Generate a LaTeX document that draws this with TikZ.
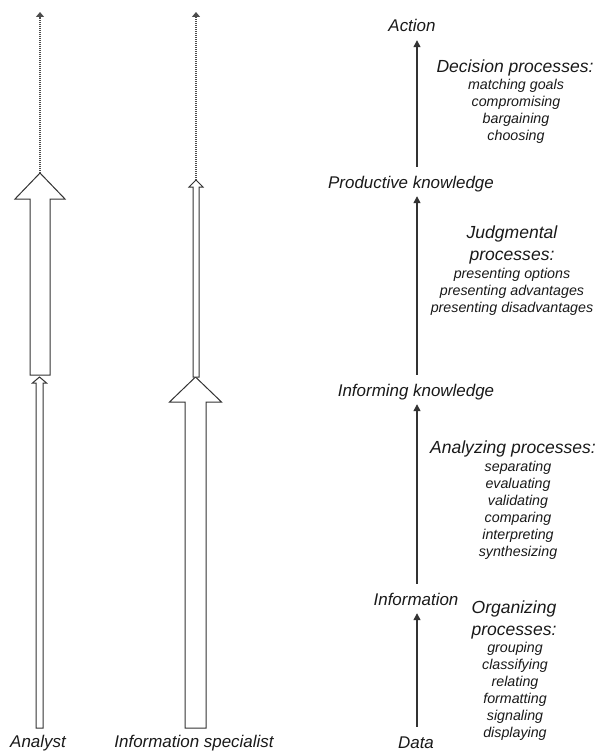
\documentclass[tikz,border=0pt]{standalone}
\usepackage{fontspec}
\setmainfont{Liberation Sans}
\usetikzlibrary{arrows.meta}
\tikzstyle{arrow} = [line width=1.3bp, draw=black!80, -{Triangle[length=7bp,width=7bp]}, shorten <=8.5bp, shorten >=4.4bp]
\tikzstyle{dots} = [line width=1.2bp, draw=black!70, dash pattern=on 1.2bp off 0.8bp, -{Triangle[length=5bp,width=8bp]}]
\tikzstyle{openarrow} = [line width=1bp, draw=black!80, fill=white, line join=miter]
\tikzstyle{level} = [font=\fontsize{17}{20}\selectfont\itshape, text=black!90, inner sep=0pt, text height=12.5bp, text depth=3.6bp, anchor=base]
\tikzstyle{head} = [font=\fontsize{17.6}{22}\selectfont\itshape, text=black!90, align=center, inner sep=0pt, anchor=base]
\tikzstyle{items} = [font=\fontsize{14.3}{17}\selectfont\itshape, text=black!90, align=center, inner sep=0pt, anchor=base]
% x, bottom, head base, tip, shaft half width, head half width
\newcommand{\blockarrow}[6]{%
  \draw[openarrow] ({#1-#5},#2) -- ({#1-#5},#3) -- ({#1-#6},#3) -- (#1,#4)
    -- ({#1+#6},#3) -- ({#1+#5},#3) -- ({#1+#5},#2) -- cycle;}

\begin{document}
\begin{tikzpicture}[x=1bp, y=-1bp]
            \useasboundingbox (0,0) rectangle (597,752);

            % Analyst column
            \blockarrow{39.5}{728}{383}{377}{3.5}{7}
            \blockarrow{40}{375}{199}{173}{10}{25}
            \coordinate (an-tip) at (40,173);
            \coordinate (an-end) at (40,12);
            \draw[dots] (an-tip) -- (an-end);
            \node[level] (analyst) at (38,747) {Analyst};

            % Information specialist column
            \blockarrow{195.5}{728}{402}{377}{10.5}{26}
            \blockarrow{196}{377}{187}{180}{3}{7}
            \coordinate (sp-tip) at (196,180);
            \coordinate (sp-end) at (196,12);
            \draw[dots] (sp-tip) -- (sp-end);
            \node[level] (specialist) at (194,747) {Information specialist};

            % Levels from data to action
            \coordinate (axis) at (417,0);
            \node[level] (data) at (416,748) {Data};
            \node[level] (info) at (416,605) {Information};
            \node[level] (informing) at (416,396) {Informing knowledge};
            \node[level] (productive) at (411,188) {Productive knowledge};
            \node[level] (action) at (412,32) {Action};

            % Draw arrows between the levels
            \draw[arrow] (axis |- data.north) -- (axis |- info.south);
            \draw[arrow] (axis |- info.north) -- (axis |- informing.south);
            \draw[arrow] (axis |- informing.north) -- (axis |- productive.south);
            \draw[arrow] (axis |- productive.north) -- (axis |- action.south);

            % Processes beside each arrow (anchored at the last line)
            \node[head] (decision) at (515,73) {Decision processes:};
            \node[items] (decision-list) at (516,140) {matching goals\\compromising\\bargaining\\choosing};
            \node[head] (judgment) at (512,260) {Judgmental\\processes:};
            \node[items] (judgment-list) at (512,312) {presenting options\\presenting advantages\\presenting disadvantages};
            \node[head] (analysis) at (513,453) {Analyzing processes:};
            \node[items] (analysis-list) at (518,556) {separating\\evaluating\\validating\\comparing\\interpreting\\synthesizing};
            \node[head] (organize) at (514,635) {Organizing\\processes:};
            \node[items] (organize-list) at (515,737) {grouping\\classifying\\relating\\formatting\\signaling\\displaying};
        \end{tikzpicture}
\end{document}
